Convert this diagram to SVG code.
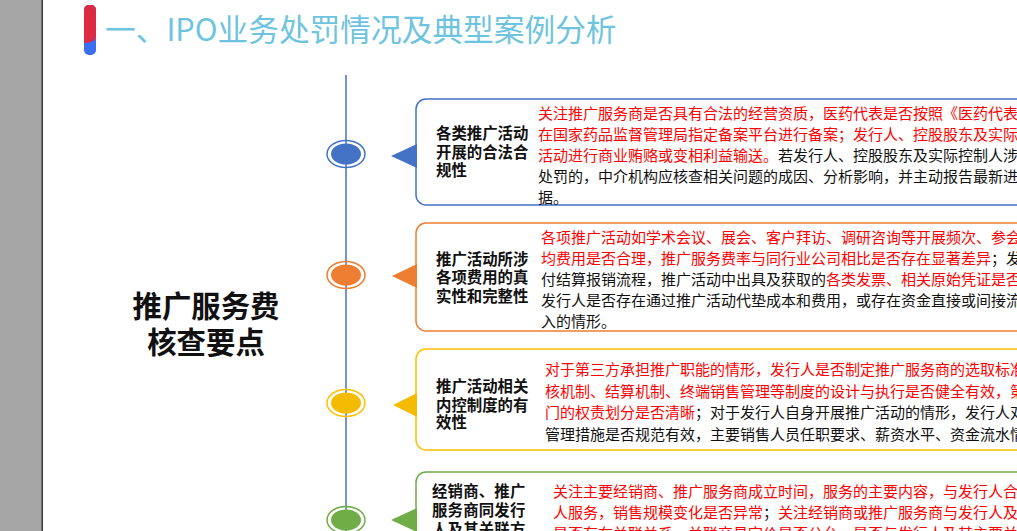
<svg xmlns="http://www.w3.org/2000/svg" width="1017" height="531" viewBox="0 0 1017 531">
<style>
.t{font-family:"Noto Sans CJK SC","Noto Sans",sans-serif;font-size:15px;fill:#111}
.r{fill:#ff0000}
.lb{font-family:"Noto Sans CJK SC","Noto Sans",sans-serif;font-size:15.4px;font-weight:bold;fill:#111}
.box{fill:#fff;stroke-width:1.5}
.ring{fill:none;stroke-width:1.5}
</style>
<rect x="0" y="0" width="1017" height="531" fill="#fff"/>
<rect x="0" y="0" width="42" height="531" fill="#a6a6a6"/>
<rect x="41.5" y="0" width="1.5" height="531" fill="#3a3a3a"/>
<g id="title">
<rect x="84" y="5" width="12" height="50" rx="5" fill="#3b6ef2"/>
<path d="M84,42 L84,10 Q84,5 89,5 L91,5 Q96,5 96,10 L96,36 Q96,43 84,43 Z" fill="#dc2a42"/>
<text x="105" y="41" font-family="'Noto Sans CJK SC',sans-serif" font-size="30.7" fill="#6ec4de">一、IPO业务处罚情况及典型案例分析</text>
</g>
<g id="center">
<text x="206" y="317" text-anchor="middle" font-family="'Noto Sans CJK SC',sans-serif" font-size="29.4" font-weight="bold" fill="#111">推广服务费</text>
<text x="206" y="353" text-anchor="middle" font-family="'Noto Sans CJK SC',sans-serif" font-size="29.4" font-weight="bold" fill="#111">核查要点</text>
</g>
<g id="connectors">
<line x1="346" y1="75" x2="346" y2="531" stroke="#4472c4" stroke-width="1.5"/>
</g>
<g id="node1">
<ellipse class="ring" cx="346" cy="154" rx="19" ry="13.5" stroke="#4472c4"/>
<ellipse cx="346" cy="154" rx="15" ry="10.5" fill="#4472c4"/>
<rect class="box" x="416" y="99" width="640" height="106" rx="10" stroke="#4472c4"/>
<polygon points="391,156 417,144 417,168" fill="#4472c4"/>
<text class="lb" x="436" y="139">各类推广活动</text>
<text class="lb" x="436" y="158">开展的合法合</text>
<text class="lb" x="436" y="176">规性</text>
<text class="t r" x="538" y="119">关注推广服务商是否具有合法的经营资质，医药代表是否按照《医药代表备</text>
<text class="t r" x="538" y="140">在国家药品监督管理局指定备案平台进行备案；发行人、控股股东及实际控</text>
<text class="t" x="538" y="161"><tspan class="r">活动进行商业贿赂或变相利益输送。</tspan>若发行人、控股股东及实际控制人涉嫌</text>
<text class="t" x="538" y="182">处罚的，中介机构应核查相关问题的成因、分析影响，并主动报告最新进</text>
<text class="t" x="538" y="203">据。</text>
</g>
<g id="node2">
<ellipse class="ring" cx="346" cy="275" rx="19" ry="13.5" stroke="#ed7d31"/>
<ellipse cx="346" cy="275" rx="15" ry="10.5" fill="#ed7d31"/>
<rect class="box" x="416" y="223" width="640" height="108" rx="10" stroke="#ed7d31"/>
<polygon points="392,276 417,264 417,288" fill="#ed7d31"/>
<text class="lb" x="436" y="265">推广活动所涉</text>
<text class="lb" x="436" y="283">各项费用的真</text>
<text class="lb" x="436" y="302">实性和完整性</text>
<text class="t r" x="541" y="243">各项推广活动如学术会议、展会、客户拜访、调研咨询等开展频次、参会</text>
<text class="t" x="541" y="264"><tspan class="r">均费用是否合理，推广服务费率与同行业公司相比是否存在显著差异</tspan>；发</text>
<text class="t" x="541" y="285">付结算报销流程，推广活动中出具及获取的<tspan class="r">各类发票、相关原始凭证是否</tspan></text>
<text class="t" x="541" y="306">发行人是否存在通过推广活动代垫成本和费用，或存在资金直接或间接流</text>
<text class="t" x="541" y="327">入的情形。</text>
</g>
<g id="node3">
<ellipse class="ring" cx="346" cy="403" rx="19" ry="13.5" stroke="#ffc000"/>
<ellipse cx="346" cy="403" rx="15" ry="10.5" fill="#f5bb00"/>
<rect class="box" x="416" y="349" width="640" height="101" rx="10" stroke="#ffc000"/>
<polygon points="393,405 417,393 417,417" fill="#f5bb00"/>
<text class="lb" x="436" y="392">推广活动相关</text>
<text class="lb" x="436" y="411">内控制度的有</text>
<text class="lb" x="436" y="428">效性</text>
<text class="t r" x="545" y="375">对于第三方承担推广职能的情形，发行人是否制定推广服务商的选取标准</text>
<text class="t r" x="545" y="396.5">核机制、结算机制、终端销售管理等制度的设计与执行是否健全有效，第</text>
<text class="t" x="545" y="418"><tspan class="r">门的权责划分是否清晰</tspan>；对于发行人自身开展推广活动的情形，发行人对</text>
<text class="t" x="545" y="439.5">管理措施是否规范有效，主要销售人员任职要求、薪资水平、资金流水情</text>
</g>
<g id="node4">
<ellipse class="ring" cx="346" cy="520" rx="19" ry="13.5" stroke="#70ad47"/>
<ellipse cx="346" cy="520" rx="15" ry="10.5" fill="#70ad47"/>
<rect class="box" x="416" y="472" width="640" height="110" rx="10" stroke="#70ad47"/>
<polygon points="391,520 417,508 417,532" fill="#70ad47"/>
<text class="lb" x="432" y="497" font-size="16" letter-spacing="0.2">经销商、推广</text>
<text class="lb" x="432" y="516" font-size="16" letter-spacing="0.2">服务商同发行</text>
<text class="lb" x="432" y="535" font-size="16" letter-spacing="0.2">人及其关联方</text>
<text class="t r" x="553" y="497">关注主要经销商、推广服务商成立时间，服务的主要内容，与发行人合作</text>
<text class="t" x="553" y="518"><tspan class="r">人服务，销售规模变化是否异常</tspan>；<tspan class="r">关注经销商或推广服务商与发行人及其</tspan></text>
<text class="t r" x="553" y="539">是否存在关联关系，关联交易定价是否公允，是否与发行人及其主要关联</text>
</g>
</svg>
